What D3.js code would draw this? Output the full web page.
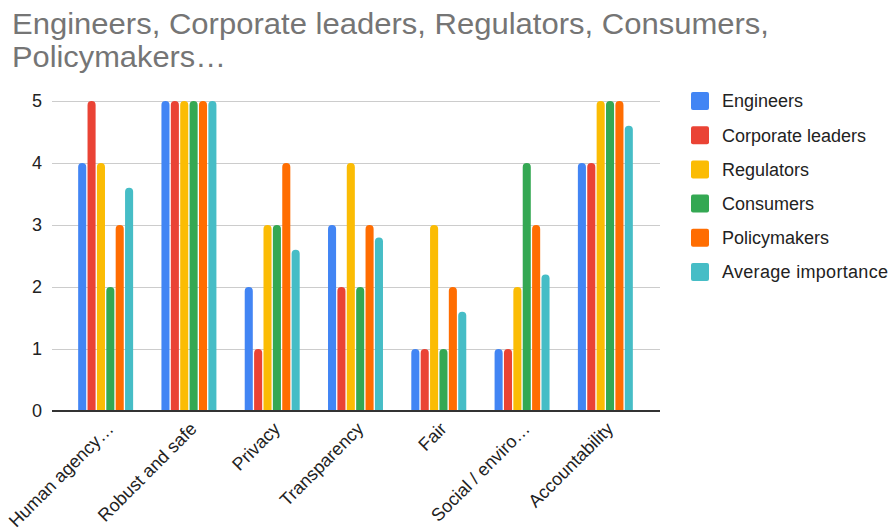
<!DOCTYPE html>
<html>
<head>
<meta charset="utf-8">
<script src="https://cdn.jsdelivr.net/npm/d3@7"></script>
<style>
  body { margin: 0; background: #fff; }
  svg { font-family: "Liberation Sans", Arial, sans-serif; }
</style>
</head>
<body>
<svg width="889" height="532"></svg>
<script>
// chart data
var categories = ["Human agency…", "Robust and safe", "Privacy", "Transparency", "Fair", "Social / enviro…", "Accountability"];
var seriesNames = ["Engineers", "Corporate leaders", "Regulators", "Consumers", "Policymakers", "Average importance"];
var engineers = [4, 5, 2, 3, 1, 1, 4];
var corporateLeaders = [5, 5, 1, 2, 1, 1, 4];
var regulators = [4, 5, 3, 4, 3, 2, 5];
var consumers = [2, 5, 3, 2, 1, 4, 5];
var policymakers = [3, 5, 4, 3, 2, 3, 5];
var averageImportance = [3.6, 5, 2.6, 2.8, 1.6, 2.2, 4.6];
var yTicks = [0, 1, 2, 3, 4, 5];
var colors = ["#4285F4", "#EA4335", "#FBBC04", "#34A853", "#FF6D01", "#46BDC6"];

var series = [engineers, corporateLeaders, regulators, consumers, policymakers, averageImportance];

function main() {
    var svg = d3.select("svg");

    //title, two lines (the original is drawn a bit wider than Liberation Sans)
    var title = svg.append("text")
        .attr("fill", "#757575")
        .style("font-size", "29px");
    title.append("tspan").attr("x", 12).attr("y", 34)
        .attr("textLength", 757).attr("lengthAdjust", "spacingAndGlyphs")
        .text("Engineers, Corporate leaders, Regulators, Consumers,");
    title.append("tspan").attr("x", 12).attr("y", 67)
        .attr("textLength", 214).attr("lengthAdjust", "spacingAndGlyphs")
        .text("Policymakers…");

    var x = d3.scaleBand()
        .domain(categories)
        .range([64, 647])
        .paddingInner(0.34)
        .paddingOuter(0.17);

    var xInner = d3.scaleBand()
        .domain(d3.range(seriesNames.length))
        .range([0, x.bandwidth()])
        .paddingInner(0.14);

    var y = d3.scaleLinear()
        .domain([0, 5])
        .range([411, 101]);

    //gridlines
    svg.append("g")
        .selectAll("line")
        .data(yTicks.filter(function(d) { return d > 0; }))
        .enter().append("line")
        .attr("x1", 52).attr("x2", 660)
        .attr("y1", function(d) { return y(d) + 0.5; })
        .attr("y2", function(d) { return y(d) + 0.5; })
        .attr("stroke", "#cccccc")
        .attr("stroke-width", 1);

    //y tick labels
    svg.append("g")
        .selectAll("text")
        .data(yTicks)
        .enter().append("text")
        .attr("x", 42)
        .attr("y", function(d) { return y(d); })
        .attr("dy", "0.35em")
        .attr("text-anchor", "end")
        .attr("fill", "#222")
        .style("font-size", "18px")
        .text(function(d) { return d; });

    //bars: rounded top corners
    var r = 4;
    function barPath(x0, w, top, bottom) {
        var rr = Math.min(r, w / 2, (bottom - top));
        return "M" + x0 + "," + bottom +
            "V" + (top + rr) +
            "Q" + x0 + "," + top + " " + (x0 + rr) + "," + top +
            "H" + (x0 + w - rr) +
            "Q" + (x0 + w) + "," + top + " " + (x0 + w) + "," + (top + rr) +
            "V" + bottom + "Z";
    }

    var groups = svg.append("g")
        .selectAll("g")
        .data(categories)
        .enter().append("g")
        .attr("transform", function(d) { return "translate(" + x(d) + ",0)"; });

    groups.selectAll("path")
        .data(function(d, i) {
            return series.map(function(s, j) { return { s: j, v: s[i] }; });
        })
        .enter().append("path")
        .attr("fill", function(d) { return colors[d.s]; })
        .attr("d", function(d) {
            return barPath(xInner(d.s), xInner.bandwidth(), y(d.v), y(0));
        });

    //baseline
    svg.append("line")
        .attr("x1", 52).attr("x2", 660)
        .attr("y1", y(0)).attr("y2", y(0))
        .attr("stroke", "#333")
        .attr("stroke-width", 2);

    //x labels rotated
    svg.append("g")
        .selectAll("text")
        .data(categories)
        .enter().append("text")
        .attr("transform", function(d) {
            return "translate(" + (x(d) + x.bandwidth() / 2 + 9) + ",430) rotate(-45)";
        })
        .attr("text-anchor", "end")
        .attr("fill", "#222")
        .style("font-size", "18px")
        .text(function(d) { return d; });

    //legend
    var legend = svg.append("g")
        .selectAll("g")
        .data(seriesNames)
        .enter().append("g")
        .attr("transform", function(d, i) { return "translate(691," + (101 + i * 34.2) + ")"; });

    legend.append("rect")
        .attr("x", 0).attr("y", -9)
        .attr("width", 18).attr("height", 18)
        .attr("rx", 2)
        .attr("fill", function(d, i) { return colors[i]; });

    legend.append("text")
        .attr("x", 31)
        .attr("y", 0)
        .attr("dy", "0.36em")
        .attr("fill", "#222")
        .style("font-size", "18px")
        .attr("textLength", function(d) { return d === "Average importance" ? 166 : null; })
        .text(function(d) { return d; });
}

main();
</script>
</body>
</html>
